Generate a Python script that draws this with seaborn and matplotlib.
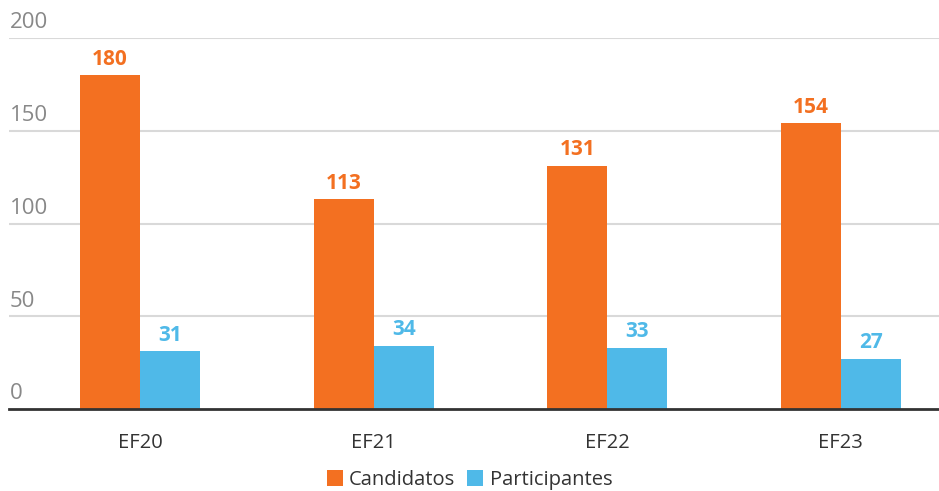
import matplotlib
matplotlib.use("Agg")
import matplotlib.pyplot as plt
import pandas as pd
import seaborn as sns

YEARS = ["EF20", "EF21", "EF22", "EF23"]
CANDIDATOS = [180, 113, 131, 154]
PARTICIPANTES = [31, 34, 33, 27]
SERIES = ["Candidatos", "Participantes"]
Y_TICKS = [0, 50, 100, 150, 200]

ORANGE = "#F37021"
BLUE = "#4FB9E8"


def main() -> None:
    df = pd.DataFrame(
        {
            "year": YEARS * 2,
            "serie": [SERIES[0]] * len(YEARS) + [SERIES[1]] * len(YEARS),
            "valor": CANDIDATOS + PARTICIPANTES,
        }
    )

    sns.set_theme(style="white")
    plt.rcParams["font.family"] = ["Open Sans", "DejaVu Sans"]

    fig = plt.figure(figsize=(9.39, 4.91), dpi=100)
    ax = fig.add_axes([9 / 939, 82 / 491, 930 / 939, 371 / 491])

    sns.barplot(
        data=df, x="year", y="valor", hue="serie",
        palette=[ORANGE, BLUE], width=0.514, gap=0,
        linewidth=0, saturation=1, ax=ax, legend=True,
    )

    ax.set_ylim(0, 200)
    ax.set_xlim(-0.561, 3.42)
    ax.set_xlabel("")
    ax.set_ylabel("")
    ax.set_yticks(Y_TICKS)
    ax.set_yticklabels([])
    ax.tick_params(axis="y", length=0)
    ax.tick_params(axis="x", length=0, pad=17, labelsize=14.5, labelcolor="#333333")
    for s in ["top", "right", "left"]:
        ax.spines[s].set_visible(False)
    ax.spines["bottom"].set_color("#333333")
    ax.spines["bottom"].set_linewidth(2)
    ax.set_axisbelow(True)
    for t in Y_TICKS[1:]:
        ax.axhline(t, color="#d9d9d9", linewidth=1.5, zorder=0)

    trans = ax.get_yaxis_transform()
    for t in Y_TICKS:
        ax.text(0.001, t + 2.5, str(t), transform=trans, ha="left", va="bottom",
                fontsize=16, color="#888888", clip_on=False)

    for container, color in zip(ax.containers, [ORANGE, BLUE]):
        ax.bar_label(container, padding=4, fontsize=15, fontweight="bold", color=color)

    handles, labels = ax.get_legend_handles_labels()
    ax.get_legend().remove()
    fig.legend(handles, labels, loc="lower center", bbox_to_anchor=(0.5, -0.035),
               ncol=2, frameon=False, fontsize=14.5, handlelength=0.8, handleheight=0.8,
               handletextpad=0.3, columnspacing=0.6, labelcolor="#333333")

    fig.savefig("out.png", dpi=100)
    plt.close(fig)


if __name__ == "__main__":
    main()
